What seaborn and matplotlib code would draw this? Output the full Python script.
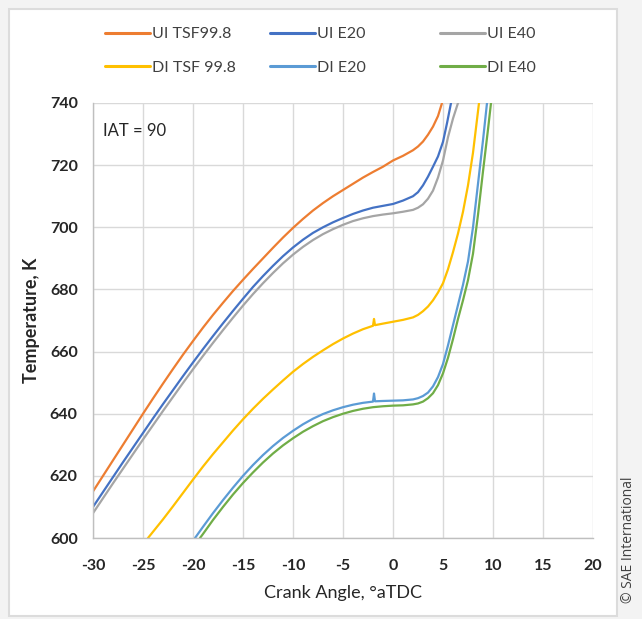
import matplotlib
matplotlib.use("Agg")
import matplotlib.pyplot as plt
from matplotlib.patches import Rectangle
from matplotlib.lines import Line2D
import seaborn as sns
import pandas as pd

# ---- data ----
ui_tsf_x = [-30, -29, -28, -27, -26, -25, -24, -23, -22, -21, -20, -19, -18, -17, -16, -15, -14, -13, -12, -11, -10,
            -9, -8, -7, -6, -5, -4, -3, -2, -1, 0, 1, 2, 2.5, 3, 3.5, 4, 4.5, 4.9, 5.2]
ui_tsf_t = [615, 620, 625, 630, 635, 640, 644.9, 649.7, 654.4, 659, 663.4, 667.7, 671.8, 675.7, 679.5, 683.1, 686.6, 690, 693.4, 696.7, 699.8,
            702.7, 705.4, 707.8, 710, 712, 714, 716, 717.8, 719.5, 721.5, 723, 724.8, 726, 727.6, 729.8, 732.4, 735.8, 740, 744]

ui_e20_x = [-30, -29, -28, -27, -26, -25, -24, -23, -22, -21, -20, -19, -18, -17, -16, -15, -14, -13, -12, -11, -10,
            -9, -8, -7, -6, -5, -4, -3, -2, -1, 0, 1, 2, 2.5, 3, 3.5, 4, 4.5, 5, 5.4, 5.8, 6.1]
ui_e20_t = [610, 614.8, 619.6, 624.4, 629.1, 633.8, 638.5, 643.1, 647.6, 652.1, 656.5, 660.8, 665, 669.1, 673.1, 677, 680.8, 684.3, 687.6, 690.7, 693.5,
            696, 698.2, 700, 701.6, 703, 704.3, 705.4, 706.3, 706.9, 707.5, 708.6, 710, 711.3, 713.5, 716.3, 719.5, 722.8, 727.5, 733.5, 740, 746]

ui_e40_x = [-30, -29, -28, -27, -26, -25, -24, -23, -22, -21, -20, -19, -18, -17, -16, -15, -14, -13, -12, -11, -10,
            -9, -8, -7, -6, -5, -4, -3, -2, -1, 0, 1, 2, 2.5, 3, 3.5, 4, 4.5, 5, 5.5, 6, 6.5, 6.9]
ui_e40_t = [608, 612.8, 617.6, 622.3, 627, 631.7, 636.3, 640.9, 645.4, 649.9, 654.3, 658.6, 662.8, 666.9, 670.9, 674.8, 678.5, 682, 685.3, 688.4, 691.2,
            693.7, 695.9, 697.8, 699.4, 700.8, 702, 702.9, 703.6, 704.1, 704.5, 705, 705.6, 706.3, 707.4, 709.2, 711.8, 716, 721.5, 729, 735, 740, 746]

di_tsf_x = [-24.5, -24, -23, -22, -21, -20, -19, -18, -17, -16, -15, -14, -13, -12, -11, -10, -9, -8, -7, -6, -5, -4, -3,
            -2, -1.9, -1.8, -1, 0, 1, 2, 2.5, 3, 3.5, 4, 4.5, 5, 5.5, 6, 6.5, 7, 7.5, 8, 8.3, 8.6, 8.9]
di_tsf_t = [600, 602, 606, 610.2, 614.5, 618.8, 623, 627, 630.8, 634.6, 638.2, 641.6, 644.8, 647.8, 650.7, 653.5, 656, 658.3, 660.4, 662.4, 664.2, 665.8, 667.2,
            668.3, 670.5, 668.5, 669, 669.6, 670.2, 671, 671.8, 673, 674.5, 676.5, 679, 682, 686.5, 692, 698, 705, 713.5, 724, 732, 740, 747]

di_e20_x = [-19.8, -19, -18, -17, -16, -15, -14, -13, -12, -11, -10, -9, -8, -7, -6, -5, -4, -3, -2, -1.9, -1.8, -1, 0, 1, 2,
            2.5, 3, 3.5, 4, 4.5, 5, 5.5, 6, 6.5, 7, 7.5, 8, 8.5, 9, 9.4, 9.7]
di_e20_t = [600, 603.6, 608, 612.2, 616.2, 620, 623.5, 626.7, 629.6, 632.2, 634.5, 636.6, 638.4, 639.9, 641.1, 642.1, 642.9, 643.5, 643.9, 646.5, 644, 644.1, 644.2, 644.3, 644.6,
            645, 645.7, 646.8, 648.8, 651.8, 656, 662, 668.5, 675, 681.5, 689, 700, 714, 728, 740, 748]

di_e40_x = [-19.3, -19, -18, -17, -16, -15, -14, -13, -12, -11, -10, -9, -8, -7, -6, -5, -4, -3, -2, -1, 0, 1, 2,
            2.5, 3, 3.5, 4, 4.5, 5, 5.5, 6, 6.5, 7, 7.5, 8, 8.5, 9, 9.5, 9.8, 10.1]
di_e40_t = [600, 601.3, 605.8, 610, 614, 617.7, 621.1, 624.3, 627.2, 629.8, 632.1, 634.2, 636, 637.6, 638.9, 640, 640.9, 641.6, 642.1, 642.4, 642.6, 642.7, 643,
            643.3, 643.9, 645, 646.6, 649.2, 653, 658, 664, 670.5, 676.5, 683, 691.5, 704, 718, 731.5, 740, 748]

series_names = ["UI TSF99.8", "UI E20", "UI E40", "DI TSF 99.8", "DI E20", "DI E40"]
series_x = [ui_tsf_x, ui_e20_x, ui_e40_x, di_tsf_x, di_e20_x, di_e40_x]
series_t = [ui_tsf_t, ui_e20_t, ui_e40_t, di_tsf_t, di_e20_t, di_e40_t]
colors = ["#ED7D31", "#4472C4", "#A5A5A5", "#FFC000", "#5B9BD5", "#70AD47"]

x_ticks = [-30, -25, -20, -15, -10, -5, 0, 5, 10, 15, 20]
y_ticks = [600, 620, 640, 660, 680, 700, 720, 740]

rows = []
for name, xs, ts in zip(series_names, series_x, series_t):
    for xv, tv in zip(xs, ts):
        rows.append({"Crank": xv, "Temp": tv, "Series": name})
df = pd.DataFrame(rows)

sns.set_theme(style="white")
plt.rcParams["font.family"] = ["Lato", "DejaVu Sans"]

fig = plt.figure(figsize=(6.42, 6.19), dpi=100)
fig.patch.set_facecolor("#f3f3f3")

# background axes carrying the white card with a light border
bg = fig.add_axes([0, 0, 1, 1], zorder=-10)
bg.set_xlim(0, 642)
bg.set_ylim(619, 0)
bg.axis("off")
bg.add_patch(Rectangle((9, 9), 608, 607, facecolor="white", edgecolor="#dcdcdc", linewidth=1.5))

ax = fig.add_axes([93 / 642, 1 - 538 / 619, 500 / 642, 435 / 619])
ax.set_facecolor("none")

sns.lineplot(data=df, x="Crank", y="Temp", hue="Series", hue_order=series_names,
             palette=colors, sort=False, estimator=None, linewidth=1.6, ax=ax,
             legend=False)

ax.set_xlim(-30, 20)
ax.set_ylim(600, 740)
ax.set_xticks(x_ticks)
ax.set_yticks(y_ticks)
ax.set_xticklabels([str(v) for v in x_ticks], fontsize=11.5, fontweight="bold", color="#262626")
ax.set_yticklabels([str(v) for v in y_ticks], fontsize=11.5, fontweight="bold", color="#262626")
ax.grid(True, color="#d9d9d9", linewidth=1.0)
ax.set_axisbelow(True)
for s in ["top", "right"]:
    ax.spines[s].set_visible(False)
for s in ["left", "bottom"]:
    ax.spines[s].set_color("#bfbfbf")
    ax.spines[s].set_linewidth(1.0)
ax.tick_params(axis="both", which="major", length=5, width=1.0, color="#bfbfbf",
               direction="out")
ax.tick_params(axis="x", pad=10)
ax.tick_params(axis="y", pad=6)

ax.set_xlabel("Crank Angle, \u00b0aTDC", fontsize=13, color="#262626", labelpad=9)
ax.set_ylabel("Temperature, K", fontsize=13, fontweight="bold", color="#262626", labelpad=7)

ax.text(-29.0, 731, "IAT = 90", fontsize=12, color="#262626", va="center", ha="left")

# legend: three columns placed independently (UI row on top, DI row below)
col_x = [105, 270, 440]
for c in range(3):
    idx = [c, c + 3]
    handles = [Line2D([0], [0], color=colors[i], linewidth=2.2) for i in idx]
    labels = [series_names[i] for i in idx]
    fig.legend(handles, labels, loc="center left",
               bbox_to_anchor=(col_x[c] / 642, 1 - 51 / 619),
               frameon=False, fontsize=11.5, handlelength=2.8, handletextpad=0.12,
               labelspacing=1.2, borderpad=0, borderaxespad=0, labelcolor="#404040")

fig.text(629 / 642, 1 - 540 / 619, "\u00a9 SAE International", rotation=90,
         fontsize=10, color="#404040", ha="center", va="center", family=["Open Sans", "DejaVu Sans"])

fig.savefig("out.png", dpi=100, facecolor=fig.get_facecolor())
